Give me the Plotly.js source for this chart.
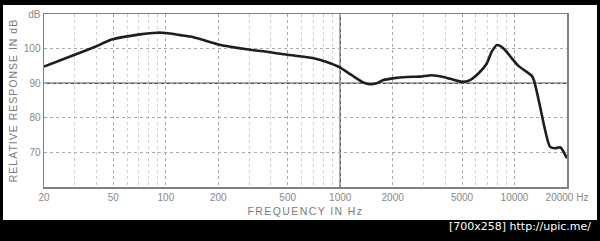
<!DOCTYPE html>
<html>
<head>
<meta charset="utf-8">
<script src="https://cdn.plot.ly/plotly-3.0.1.min.js"></script>
<style>
html,body{margin:0;padding:0;background:#000;}
#chart{width:600px;height:241px;}
.xtitle{letter-spacing:1.4px;}
.ytitle{letter-spacing:1.0px;}
</style>
</head>
<body>
<div id="chart"></div>
<script>
// Frequency (Hz) and relative response (dB)
var freq = [20, 30, 40, 49, 71, 89, 100, 121, 144, 200, 291, 387, 500, 702, 837, 1000, 1140, 1217, 1359, 1484, 1621, 1771, 2000, 2411, 2871, 3350, 3908, 4460, 4982, 5559, 6347, 6930, 7404, 7909, 8263, 8827, 9647, 10530, 11500, 12570, 12950, 14020, 14970, 16000, 17100, 18280, 19100, 20000];
var response = [94.8, 98.2, 100.7, 102.6, 104.1, 104.6, 104.5, 103.9, 103.3, 101.2, 99.8, 99.0, 98.2, 97.2, 96.1, 94.5, 92.6, 91.7, 90.2, 89.7, 90.0, 90.9, 91.4, 91.8, 91.9, 92.3, 91.8, 91.0, 90.4, 90.9, 93.3, 95.7, 99.1, 101.0, 100.8, 99.6, 97.2, 95.0, 93.6, 92.1, 90.7, 83.2, 76.5, 71.6, 71.2, 71.5, 70.2, 68.3];

var xTickVals = [20, 50, 100, 200, 500, 1000, 2000, 5000, 10000, 20000];
var xTickText = ['20', '50', '100', '200', '500', '1000', '2000', '5000', '10000', '20000 Hz'];
var xMinorVals = [30, 40, 60, 70, 80, 90, 300, 400, 600, 700, 800, 900, 3000, 4000, 6000, 7000, 8000, 9000];
var yTickVals = [70, 80, 90, 100, 110];
var yTickText = ['70', '80', '90', '100', 'dB'];

var trace = {
  x: freq, y: response, type: 'scatter', mode: 'lines',
  line: {color: '#1e1e1e', width: 2.6, shape: 'spline', smoothing: 0.7},
  hoverinfo: 'skip'
};

var layout = {
  width: 600, height: 241,
  margin: {l: 44, r: 33, t: 14, b: 54, pad: 0},
  paper_bgcolor: '#000',
  plot_bgcolor: '#fff',
  showlegend: false,
  font: {family: 'Liberation Sans, Arial, sans-serif', color: '#888', size: 10},
  xaxis: {
    type: 'log', range: [Math.log10(20), Math.log10(20000)],
    tickmode: 'array', tickvals: xTickVals, ticktext: xTickText,
    ticks: '', showgrid: true, gridcolor: '#a8a8a8', griddash: 'dot', gridwidth: 1,
    minor: {tickmode: 'array', tickvals: xMinorVals, showgrid: true, gridcolor: '#cfcfcf', griddash: 'dot', gridwidth: 1, ticks: ''},
    showline: true, mirror: true, linecolor: '#808080', linewidth: 1.5,
    zeroline: false, fixedrange: true,
    tickfont: {size: 10, color: '#888'},
    title: {text: 'FREQUENCY IN Hz', font: {size: 10.5, color: '#7a7a7a'}, standoff: 6}
  },
  yaxis: {
    range: [60, 110],
    tickmode: 'array', tickvals: yTickVals, ticktext: yTickText,
    ticks: '', showgrid: true, gridcolor: '#a8a8a8', griddash: 'dot', gridwidth: 1,
    showline: true, mirror: true, linecolor: '#808080', linewidth: 1.5,
    zeroline: false, fixedrange: true,
    tickfont: {size: 10, color: '#888'},
    title: {text: 'RELATIVE RESPONSE IN dB', font: {size: 10.5, color: '#7a7a7a'}, standoff: 4}
  },
  shapes: [
    {type: 'rect', xref: 'paper', yref: 'paper', x0: -0.0784, x1: 1.0574, y0: -0.1908, y1: 1.052,
     fillcolor: '#fff', line: {width: 0}, layer: 'below'},
    {type: 'line', xref: 'x', yref: 'paper', x0: 1000, x1: 1000, y0: 0, y1: 1,
     line: {color: '#555', width: 1.4}, layer: 'between'},
    {type: 'line', xref: 'paper', yref: 'y', x0: 0, x1: 1, y0: 90, y1: 90,
     line: {color: '#555', width: 1.4}, layer: 'between'}
  ],
  annotations: [
    {text: '[700x258] http://upic.me/', xref: 'paper', yref: 'paper',
     x: 1.0497, y: -0.231, xanchor: 'right', yanchor: 'middle', showarrow: false,
     font: {family: 'DejaVu Sans', size: 11, color: '#fff'}}
  ]
};

Plotly.newPlot('chart', [trace], layout, {displayModeBar: false, staticPlot: true});
</script>
</body>
</html>
